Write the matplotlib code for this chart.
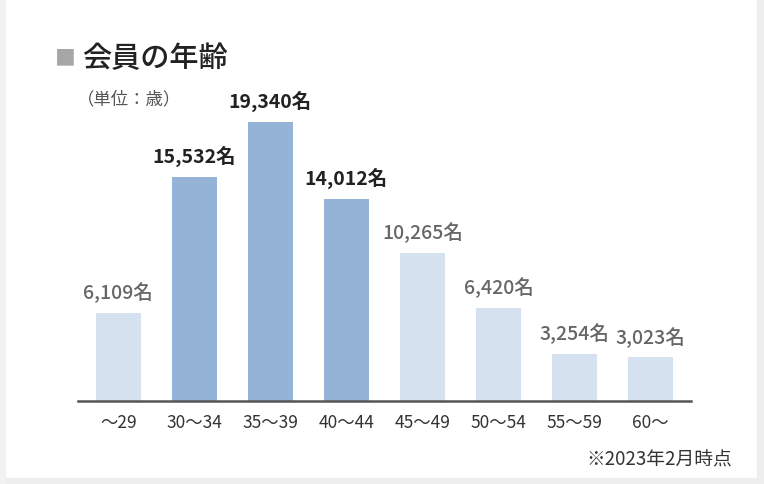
import matplotlib
matplotlib.use("Agg")
import matplotlib.pyplot as plt
from matplotlib.patches import Rectangle

plt.rcParams['font.family'] = ['Noto Sans CJK JP', 'DejaVu Sans']

# データ
age_groups = ['～29', '30～34', '35～39', '40～44', '45～49', '50～54', '55～59', '60～']
members = [6109, 15532, 19340, 14012, 10265, 6420, 3254, 3023]
highlight = [False, True, True, True, False, False, False, False]

col_dark = '#95b3d7'
col_light = '#d5e1ef'

fig = plt.figure(figsize=(7.64, 4.84), dpi=100)

# 枠 (右・下・左の薄いグレー)
fig.patches.append(Rectangle((757 / 764, 0), 7 / 764, 1, transform=fig.transFigure,
                             color='#eeeeee', zorder=0))
fig.patches.append(Rectangle((0, 0), 1, 6 / 484, transform=fig.transFigure,
                             color='#eeeeee', zorder=0))
fig.patches.append(Rectangle((0, 0), 5 / 764, 1, transform=fig.transFigure,
                             color='#f2f2f2', zorder=0))

ax = fig.add_axes([78 / 764, 1 - 401 / 484, 613 / 764, 301 / 484])
ax.set_facecolor('none')

x = range(len(age_groups))
colors = [col_dark if h else col_light for h in highlight]
bars = ax.bar(x, members, width=0.585, color=colors, zorder=2)

for b, v, h in zip(bars, members, highlight):
    ax.annotate(f'{v:,}名', (b.get_x() + b.get_width() / 2, v),
                xytext=(0, 7), textcoords='offset points', ha='center', va='bottom',
                fontsize=14, color='#222222' if h else '#666666',
                fontweight='bold' if h else 'medium')

ax.set_xlim(-0.53, len(age_groups) - 1 + 0.53)
ax.set_ylim(0, 20845)
ax.set_xticks(list(x))
ax.set_xticklabels(age_groups, fontsize=12.5, color='#333333')
ax.tick_params(axis='x', length=0, pad=9)
ax.set_yticks([])
for s in ['top', 'right', 'left']:
    ax.spines[s].set_visible(False)
ax.spines['bottom'].set_color('#555555')
ax.spines['bottom'].set_linewidth(1.8)
ax.spines['bottom'].set_zorder(3)

# タイトル
fig.text(55 / 764, 1 - 58 / 484, '■', fontsize=15, color='#a6a6a6', va='center', ha='left')
fig.text(82 / 764, 1 - 59 / 484, '会員の年齢', fontsize=21, color='#222222',
         va='center', ha='left', fontweight='medium')
fig.text(77 / 764, 1 - 99 / 484, '（単位：歳）', fontsize=12.5, color='#555555',
         va='center', ha='left')
fig.text(732 / 764, 1 - 460 / 484, '※2023年2月時点', fontsize=13.5, color='#333333',
         va='center', ha='right')

fig.savefig('out.png', dpi=100, facecolor='white')
